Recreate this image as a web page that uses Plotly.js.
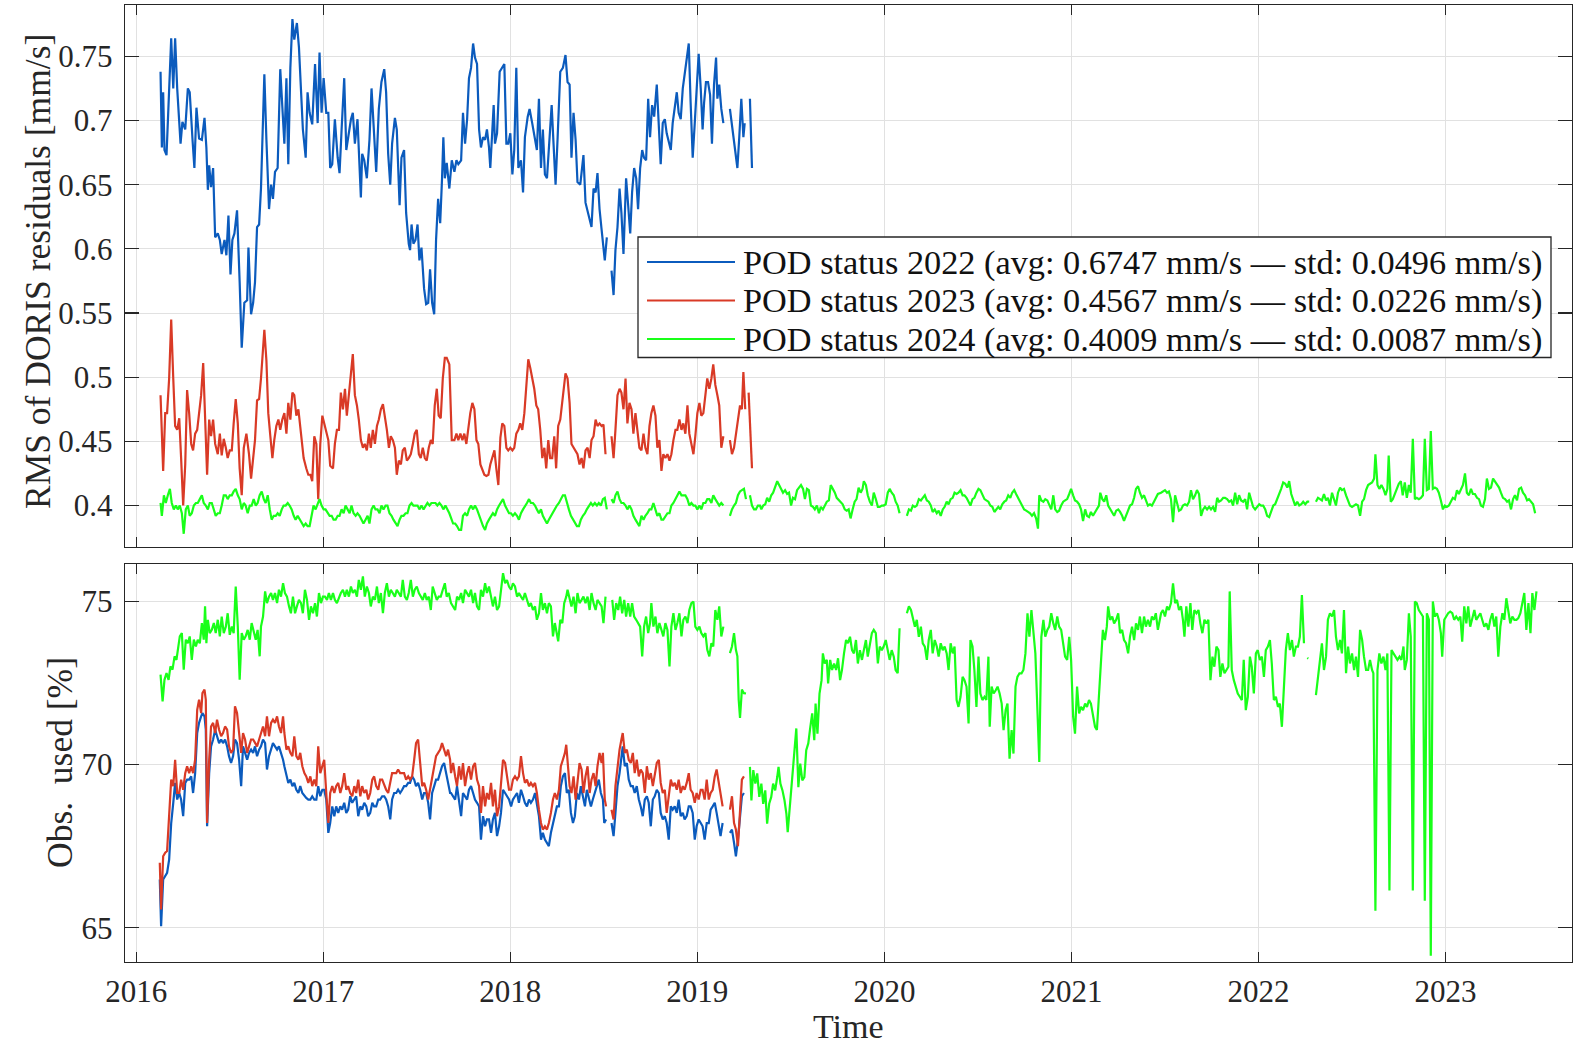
<!DOCTYPE html>
<html><head><meta charset="utf-8">
<script src="https://cdn.plot.ly/plotly-3.0.1.min.js"></script>
<style>html,body{margin:0;padding:0;background:#fff;}#chart{width:1578px;height:1046px;}</style>
</head><body><div id="chart"></div>
<script>
// ---------- axis ticks / labels ----------
const yearTicks = [2016, 2017, 2018, 2019, 2020, 2021, 2022, 2023];
const yearLabels = ['2016', '2017', '2018', '2019', '2020', '2021', '2022', '2023'];
const rmsTicks = [0.4, 0.45, 0.5, 0.55, 0.6, 0.65, 0.7, 0.75];
const rmsLabels = ['0.4', '0.45', '0.5', '0.55', '0.6', '0.65', '0.7', '0.75'];
const obsTicks = [65, 70, 75];
const obsLabels = ['65', '70', '75'];
const axisTitles = {rms: 'RMS of DORIS residuals [mm/s]', obs: 'Obs.  used [%]', time: 'Time'};

// ---------- series labels ----------
const seriesNames = ['POD status 2022', 'POD status 2023', 'POD status 2024'];
const seriesAvg = ['0.6747', '0.4567', '0.4009'];
const seriesStd = ['0.0496', '0.0226', '0.0087'];

// ---------- RMS of DORIS residuals [mm/s]  ([decimal year, value], null = data gap) ----------
const rms2022 = [[2016.130,.738],[2016.137,.679],[2016.144,.722],[2016.151,.677],[2016.162,.673],[2016.173,.720],[2016.187,.764],[2016.198,.725],[2016.208,.764],[2016.219,.725],[2016.226,.706],[2016.237,.682],[2016.247,.699],[2016.262,.693],[2016.276,.725],[2016.286,.722],[2016.301,.685],[2016.311,.663],[2016.322,.710],[2016.336,.686],[2016.351,.685],[2016.365,.702],[2016.375,.679],[2016.383,.646],[2016.390,.665],[2016.400,.648],[2016.411,.663],[2016.422,.609],[2016.436,.612],[2016.447,.607],[2016.457,.596],[2016.472,.607],[2016.482,.595],[2016.493,.626],[2016.504,.580],[2016.514,.607],[2016.525,.612],[2016.539,.630],[2016.553,.574],[2016.564,.523],[2016.578,.558],[2016.593,.560],[2016.600,.601],[2016.614,.549],[2016.625,.558],[2016.635,.574],[2016.646,.617],[2016.657,.619],[2016.667,.647],[2016.685,.736],[2016.696,.685],[2016.710,.631],[2016.721,.650],[2016.731,.639],[2016.742,.660],[2016.756,.663],[2016.770,.740],[2016.781,.706],[2016.792,.682],[2016.803,.733],[2016.813,.666],[2016.824,.741],[2016.835,.779],[2016.845,.763],[2016.859,.776],[2016.870,.757],[2016.881,.722],[2016.891,.693],[2016.906,.671],[2016.916,.722],[2016.927,.706],[2016.941,.697],[2016.956,.744],[2016.970,.698],[2016.980,.753],[2016.991,.706],[2017.002,.733],[2017.016,.706],[2017.027,.706],[2017.037,.663],[2017.048,.666],[2017.062,.701],[2017.077,.671],[2017.087,.659],[2017.098,.693],[2017.112,.733],[2017.123,.677],[2017.133,.687],[2017.148,.701],[2017.158,.706],[2017.169,.682],[2017.183,.701],[2017.194,.658],[2017.201,.640],[2017.208,.674],[2017.219,.669],[2017.233,.655],[2017.247,.685],[2017.258,.725],[2017.272,.685],[2017.283,.660],[2017.297,.709],[2017.311,.730],[2017.326,.740],[2017.336,.722],[2017.347,.674],[2017.358,.650],[2017.368,.682],[2017.383,.702],[2017.393,.693],[2017.408,.634],[2017.418,.671],[2017.432,.677],[2017.443,.628],[2017.457,.604],[2017.464,.599],[2017.472,.619],[2017.482,.604],[2017.493,.607],[2017.504,.619],[2017.514,.591],[2017.525,.601],[2017.539,.569],[2017.550,.557],[2017.561,.558],[2017.571,.584],[2017.582,.558],[2017.593,.549],[2017.603,.607],[2017.614,.639],[2017.625,.620],[2017.635,.655],[2017.642,.687],[2017.650,.655],[2017.660,.667],[2017.674,.647],[2017.687,.669],[2017.701,.660],[2017.712,.669],[2017.722,.666],[2017.737,.669],[2017.747,.706],[2017.758,.682],[2017.769,.701],[2017.779,.733],[2017.790,.741],[2017.801,.760],[2017.811,.749],[2017.822,.744],[2017.833,.693],[2017.843,.679],[2017.854,.687],[2017.865,.685],[2017.875,.693],[2017.886,.679],[2017.893,.663],[2017.900,.682],[2017.911,.712],[2017.918,.682],[2017.929,.690],[2017.943,.738],[2017.957,.741],[2017.968,.744],[2017.979,.682],[2017.989,.682],[2018.000,.690],[2018.011,.658],[2018.021,.677],[2018.032,.741],[2018.043,.663],[2018.057,.669],[2018.068,.644],[2018.078,.687],[2018.093,.703],[2018.103,.709],[2018.117,.698],[2018.132,.685],[2018.142,.677],[2018.153,.717],[2018.164,.663],[2018.174,.693],[2018.185,.658],[2018.196,.655],[2018.210,.685],[2018.221,.712],[2018.231,.682],[2018.242,.650],[2018.253,.687],[2018.267,.738],[2018.281,.741],[2018.295,.751],[2018.306,.730],[2018.317,.728],[2018.327,.671],[2018.338,.706],[2018.349,.685],[2018.359,.652],[2018.374,.650],[2018.391,.673],[2018.402,.636],[2018.413,.630],[2018.424,.623],[2018.434,.617],[2018.445,.647],[2018.456,.644],[2018.466,.659],[2018.477,.631],[2018.488,.615],[2018.498,.599],[2018.505,.591],[2018.516,.609],null,[2018.541,.583],[2018.552,.564],[2018.562,.599],[2018.573,.617],[2018.584,.647],[2018.594,.628],[2018.605,.596],[2018.619,.655],[2018.630,.634],[2018.641,.612],[2018.651,.644],[2018.662,.663],[2018.673,.655],[2018.683,.631],[2018.694,.663],[2018.705,.677],[2018.715,.671],[2018.726,.669],[2018.737,.717],[2018.747,.687],[2018.758,.712],[2018.769,.703],[2018.783,.728],[2018.794,.693],[2018.804,.666],[2018.815,.698],[2018.826,.701],[2018.836,.690],[2018.847,.682],[2018.858,.677],[2018.868,.698],[2018.879,.709],[2018.890,.722],[2018.900,.706],[2018.911,.701],[2018.922,.725],[2018.932,.736],[2018.943,.747],[2018.954,.760],[2018.964,.714],[2018.975,.671],[2018.986,.698],[2018.996,.720],[2019.007,.752],[2019.018,.725],[2019.028,.693],[2019.036,.714],[2019.046,.730],[2019.057,.730],[2019.068,.720],[2019.078,.682],[2019.089,.728],[2019.100,.749],[2019.107,.717],[2019.117,.728],[2019.128,.709],[2019.139,.698],null,[2019.174,.709],[2019.189,.693],[2019.203,.677],[2019.214,.663],[2019.224,.687],[2019.235,.717],[2019.246,.687],[2019.253,.698],null,[2019.281,.717],[2019.292,.663]];

const rms2023 = [[2016.130,.486],[2016.144,.427],[2016.155,.472],[2016.165,.472],[2016.176,.499],[2016.187,.545],[2016.198,.499],[2016.208,.462],[2016.219,.459],[2016.230,.468],[2016.240,.437],[2016.251,.400],[2016.262,.432],[2016.272,.490],[2016.283,.472],[2016.294,.448],[2016.304,.443],[2016.315,.456],[2016.326,.459],[2016.336,.472],[2016.347,.486],[2016.358,.511],[2016.368,.472],[2016.379,.424],[2016.390,.467],[2016.400,.454],[2016.411,.467],[2016.422,.448],[2016.436,.440],[2016.447,.456],[2016.457,.439],[2016.468,.452],[2016.479,.445],[2016.489,.437],[2016.500,.443],[2016.511,.443],[2016.521,.464],[2016.532,.483],[2016.543,.464],[2016.553,.429],[2016.564,.408],[2016.575,.445],[2016.589,.456],[2016.603,.440],[2016.614,.421],[2016.625,.437],[2016.635,.451],[2016.646,.482],[2016.657,.483],[2016.667,.499],[2016.678,.521],[2016.685,.537],[2016.696,.513],[2016.706,.472],[2016.717,.454],[2016.728,.437],[2016.738,.451],[2016.749,.462],[2016.760,.467],[2016.770,.459],[2016.781,.467],[2016.792,.472],[2016.803,.456],[2016.813,.480],[2016.824,.467],[2016.835,.488],[2016.845,.486],[2016.856,.470],[2016.867,.475],[2016.881,.454],[2016.895,.437],[2016.909,.429],[2016.920,.424],[2016.931,.424],[2016.941,.419],[2016.952,.454],[2016.963,.448],[2016.973,.405],[2016.984,.448],[2016.995,.470],[2017.005,.464],[2017.016,.459],[2017.027,.451],[2017.037,.431],[2017.052,.429],[2017.062,.448],[2017.073,.459],[2017.084,.459],[2017.094,.488],[2017.105,.475],[2017.116,.491],[2017.126,.470],[2017.137,.488],[2017.148,.507],[2017.158,.518],[2017.169,.486],[2017.180,.478],[2017.190,.467],[2017.201,.451],[2017.212,.445],[2017.222,.448],[2017.233,.443],[2017.244,.456],[2017.254,.445],[2017.265,.459],[2017.276,.448],[2017.287,.462],[2017.297,.467],[2017.308,.475],[2017.319,.479],[2017.329,.470],[2017.340,.459],[2017.351,.445],[2017.361,.454],[2017.372,.451],[2017.383,.445],[2017.393,.424],[2017.404,.435],[2017.415,.432],[2017.425,.443],[2017.436,.445],[2017.447,.435],[2017.457,.437],[2017.468,.440],[2017.479,.448],[2017.489,.456],[2017.500,.459],[2017.511,.440],[2017.521,.437],[2017.532,.445],[2017.543,.437],[2017.553,.435],[2017.564,.445],[2017.575,.451],[2017.585,.448],[2017.596,.478],[2017.607,.491],[2017.617,.470],[2017.628,.468],[2017.639,.499],[2017.650,.515],[2017.660,.515],[2017.674,.510],[2017.687,.451],[2017.701,.451],[2017.712,.456],[2017.722,.451],[2017.733,.456],[2017.744,.451],[2017.754,.456],[2017.765,.448],[2017.776,.462],[2017.786,.472],[2017.797,.480],[2017.808,.475],[2017.819,.451],[2017.829,.448],[2017.840,.432],[2017.851,.427],[2017.861,.424],[2017.872,.423],[2017.883,.424],[2017.893,.432],[2017.904,.437],[2017.915,.443],[2017.925,.429],[2017.936,.416],[2017.947,.453],[2017.957,.464],[2017.968,.462],[2017.979,.445],[2017.989,.443],[2018.000,.445],[2018.011,.443],[2018.021,.445],[2018.032,.456],[2018.043,.459],[2018.053,.464],[2018.064,.459],[2018.075,.472],[2018.085,.491],[2018.096,.514],[2018.107,.507],[2018.117,.499],[2018.128,.491],[2018.139,.478],[2018.149,.475],[2018.160,.459],[2018.171,.437],[2018.182,.445],[2018.192,.429],[2018.203,.451],[2018.213,.437],[2018.224,.437],[2018.235,.454],[2018.245,.429],[2018.256,.462],[2018.267,.467],[2018.278,.480],[2018.288,.491],[2018.295,.503],[2018.306,.499],[2018.317,.480],[2018.327,.448],[2018.338,.445],[2018.349,.443],[2018.359,.440],[2018.370,.432],[2018.381,.437],[2018.391,.429],[2018.402,.443],[2018.413,.445],[2018.424,.437],[2018.434,.451],[2018.445,.454],[2018.456,.467],[2018.466,.462],[2018.477,.464],[2018.488,.462],[2018.498,.463],[2018.509,.440],null,[2018.541,.454],[2018.552,.437],[2018.562,.459],[2018.573,.486],[2018.584,.491],[2018.594,.488],[2018.605,.475],[2018.616,.499],[2018.626,.464],[2018.637,.480],[2018.648,.475],[2018.658,.456],[2018.669,.472],[2018.680,.459],[2018.690,.445],[2018.701,.443],[2018.712,.456],[2018.722,.445],[2018.733,.440],[2018.744,.462],[2018.754,.472],[2018.765,.478],[2018.776,.470],[2018.786,.445],[2018.797,.451],[2018.808,.427],[2018.818,.440],[2018.829,.437],[2018.840,.440],[2018.851,.435],[2018.861,.440],[2018.872,.451],[2018.883,.459],[2018.893,.459],[2018.904,.467],[2018.915,.459],[2018.925,.464],[2018.936,.456],[2018.947,.478],[2018.957,.456],[2018.968,.448],[2018.979,.440],[2018.989,.454],[2019.000,.472],[2019.011,.480],[2019.021,.470],[2019.032,.472],[2019.043,.486],[2019.053,.499],[2019.064,.491],[2019.075,.499],[2019.085,.510],[2019.096,.494],[2019.107,.486],[2019.117,.478],[2019.128,.445],[2019.139,.454],null,[2019.174,.451],[2019.185,.440],[2019.196,.445],[2019.206,.456],[2019.217,.470],[2019.228,.478],[2019.238,.475],[2019.246,.504],[2019.256,.475],null,[2019.274,.488],[2019.285,.456],[2019.292,.429]];

const rms2024 = [[2016.130,.402],[2016.137,.392],[2016.148,.408],[2016.158,.402],[2016.169,.408],[2016.180,.413],[2016.190,.402],[2016.201,.397],[2016.212,.400],[2016.222,.397],[2016.233,.400],[2016.244,.394],[2016.254,.378],[2016.265,.397],[2016.276,.400],[2016.286,.392],[2016.297,.394],[2016.308,.400],[2016.319,.402],[2016.329,.402],[2016.340,.405],[2016.351,.408],[2016.361,.402],[2016.372,.400],[2016.383,.397],[2016.393,.402],[2016.404,.402],[2016.415,.397],[2016.425,.392],[2016.436,.394],[2016.447,.394],[2016.457,.400],[2016.468,.408],[2016.479,.408],[2016.489,.405],[2016.500,.408],[2016.511,.408],[2016.521,.411],[2016.532,.413],[2016.543,.408],[2016.553,.405],[2016.564,.397],[2016.575,.402],[2016.585,.400],[2016.596,.394],[2016.607,.400],[2016.617,.400],[2016.628,.405],[2016.639,.400],[2016.649,.402],[2016.660,.408],[2016.671,.411],[2016.682,.405],[2016.692,.402],[2016.703,.408],[2016.714,.397],[2016.724,.389],[2016.735,.392],[2016.746,.392],[2016.756,.394],[2016.767,.392],[2016.778,.397],[2016.788,.400],[2016.799,.400],[2016.810,.402],[2016.820,.400],[2016.831,.397],[2016.842,.392],[2016.852,.389],[2016.863,.392],[2016.874,.389],[2016.884,.386],[2016.895,.384],[2016.906,.386],[2016.916,.384],[2016.927,.384],[2016.938,.392],[2016.948,.400],[2016.959,.397],[2016.970,.402],[2016.980,.405],[2016.991,.400],[2017.002,.397],[2017.012,.397],[2017.023,.394],[2017.034,.392],[2017.045,.392],[2017.055,.389],[2017.066,.389],[2017.077,.392],[2017.087,.392],[2017.098,.397],[2017.109,.394],[2017.119,.400],[2017.130,.397],[2017.141,.394],[2017.151,.400],[2017.162,.394],[2017.173,.392],[2017.183,.394],[2017.194,.392],[2017.205,.389],[2017.215,.386],[2017.226,.389],[2017.237,.392],[2017.247,.386],[2017.258,.397],[2017.269,.400],[2017.279,.397],[2017.290,.397],[2017.301,.394],[2017.311,.400],[2017.322,.397],[2017.333,.400],[2017.343,.400],[2017.354,.394],[2017.365,.392],[2017.375,.389],[2017.386,.386],[2017.397,.384],[2017.408,.389],[2017.418,.392],[2017.429,.392],[2017.440,.394],[2017.450,.394],[2017.461,.400],[2017.472,.402],[2017.482,.400],[2017.493,.400],[2017.504,.400],[2017.514,.397],[2017.525,.400],[2017.536,.397],[2017.546,.400],[2017.557,.402],[2017.568,.400],[2017.578,.402],[2017.589,.402],[2017.600,.402],[2017.610,.400],[2017.621,.402],[2017.632,.400],[2017.642,.397],[2017.653,.400],[2017.664,.397],[2017.674,.394],[2017.694,.386],[2017.705,.386],[2017.715,.384],[2017.726,.381],[2017.737,.381],[2017.747,.392],[2017.758,.394],[2017.769,.392],[2017.779,.397],[2017.790,.400],[2017.801,.397],[2017.811,.400],[2017.822,.397],[2017.833,.392],[2017.843,.389],[2017.854,.384],[2017.865,.381],[2017.875,.386],[2017.886,.389],[2017.897,.392],[2017.907,.394],[2017.918,.392],[2017.929,.397],[2017.940,.400],[2017.950,.402],[2017.961,.405],[2017.972,.400],[2017.982,.397],[2017.993,.394],[2018.004,.394],[2018.014,.392],[2018.025,.394],[2018.036,.392],[2018.046,.389],[2018.057,.394],[2018.068,.397],[2018.078,.400],[2018.089,.402],[2018.100,.405],[2018.110,.402],[2018.121,.402],[2018.132,.400],[2018.142,.397],[2018.153,.394],[2018.164,.397],[2018.174,.392],[2018.185,.389],[2018.196,.386],[2018.206,.389],[2018.217,.392],[2018.228,.394],[2018.238,.397],[2018.249,.400],[2018.260,.402],[2018.270,.405],[2018.281,.408],[2018.292,.408],[2018.302,.402],[2018.313,.397],[2018.324,.392],[2018.335,.389],[2018.345,.386],[2018.356,.384],[2018.367,.384],[2018.377,.389],[2018.388,.392],[2018.399,.394],[2018.409,.397],[2018.420,.400],[2018.431,.402],[2018.441,.400],[2018.452,.402],[2018.463,.400],[2018.473,.402],[2018.484,.400],[2018.495,.405],[2018.505,.406],[2018.516,.397],null,[2018.541,.405],[2018.552,.402],[2018.562,.408],[2018.573,.411],[2018.584,.405],[2018.594,.402],[2018.605,.402],[2018.616,.400],[2018.626,.397],[2018.637,.400],[2018.648,.397],[2018.658,.392],[2018.669,.389],[2018.680,.386],[2018.690,.384],[2018.701,.392],[2018.712,.389],[2018.722,.392],[2018.733,.394],[2018.744,.397],[2018.754,.397],[2018.765,.402],[2018.776,.397],[2018.786,.392],[2018.797,.394],[2018.808,.389],[2018.818,.389],[2018.829,.392],[2018.840,.394],[2018.851,.394],[2018.861,.400],[2018.872,.402],[2018.883,.405],[2018.893,.408],[2018.904,.411],[2018.915,.408],[2018.925,.408],[2018.936,.408],[2018.947,.405],[2018.957,.400],[2018.968,.402],[2018.979,.400],[2018.989,.400],[2019.000,.397],[2019.011,.400],[2019.021,.397],[2019.032,.402],[2019.043,.402],[2019.053,.405],[2019.064,.405],[2019.075,.402],[2019.085,.408],[2019.096,.405],[2019.107,.402],[2019.117,.400],[2019.128,.402],[2019.139,.400],null,[2019.174,.392],[2019.185,.397],[2019.196,.400],[2019.206,.402],[2019.217,.408],[2019.228,.411],[2019.238,.412],[2019.249,.413],[2019.260,.405],null,[2019.281,.408],[2019.292,.400],[2019.303,.397],[2019.313,.397],[2019.324,.400],[2019.335,.400],[2019.342,.397],[2019.352,.400],[2019.363,.401],[2019.373,.406],[2019.384,.403],[2019.395,.408],[2019.405,.410],[2019.416,.414],[2019.427,.419],[2019.437,.416],[2019.448,.413],[2019.458,.410],[2019.469,.412],[2019.480,.409],[2019.490,.410],[2019.501,.400],[2019.511,.406],[2019.522,.405],[2019.533,.412],[2019.543,.414],[2019.554,.416],[2019.565,.413],[2019.575,.405],[2019.586,.413],[2019.596,.412],[2019.607,.400],[2019.618,.399],[2019.628,.397],[2019.639,.400],[2019.650,.394],[2019.660,.399],[2019.671,.397],[2019.681,.400],[2019.692,.403],[2019.703,.404],[2019.713,.416],[2019.724,.413],[2019.735,.410],[2019.745,.406],[2019.756,.404],[2019.766,.403],[2019.777,.401],[2019.788,.397],[2019.798,.396],[2019.809,.397],[2019.819,.390],[2019.830,.397],[2019.841,.403],[2019.851,.405],[2019.862,.414],[2019.873,.410],[2019.883,.413],[2019.890,.419],[2019.901,.416],[2019.911,.408],[2019.922,.403],[2019.933,.400],[2019.943,.410],[2019.954,.405],[2019.965,.399],[2019.975,.399],[2019.986,.400],[2019.996,.400],[2020.007,.401],[2020.018,.410],[2020.028,.413],[2020.039,.410],[2020.050,.408],[2020.060,.403],[2020.071,.400],[2020.081,.394],null,[2020.120,.392],[2020.131,.397],[2020.142,.396],[2020.152,.400],[2020.163,.399],[2020.173,.400],[2020.184,.405],[2020.195,.404],[2020.205,.406],[2020.216,.408],[2020.227,.404],[2020.237,.403],[2020.248,.400],[2020.258,.395],[2020.269,.397],[2020.280,.394],[2020.290,.396],[2020.301,.392],[2020.312,.397],[2020.322,.399],[2020.333,.403],[2020.343,.401],[2020.354,.405],[2020.365,.406],[2020.375,.410],[2020.386,.409],[2020.396,.410],[2020.407,.412],[2020.418,.408],[2020.428,.408],[2020.439,.406],[2020.450,.403],[2020.460,.400],[2020.471,.405],[2020.481,.406],[2020.492,.410],[2020.503,.413],[2020.513,.412],[2020.524,.408],[2020.535,.405],[2020.545,.404],[2020.556,.403],[2020.566,.400],[2020.577,.399],[2020.588,.395],[2020.598,.397],[2020.609,.399],[2020.619,.397],[2020.630,.401],[2020.641,.403],[2020.651,.404],[2020.662,.408],[2020.673,.406],[2020.683,.410],[2020.694,.412],[2020.704,.409],[2020.715,.406],[2020.726,.403],[2020.736,.400],[2020.747,.397],[2020.758,.396],[2020.768,.395],[2020.779,.394],[2020.789,.392],[2020.800,.394],[2020.811,.390],[2020.821,.382],[2020.828,.408],[2020.839,.404],[2020.850,.403],[2020.860,.405],[2020.871,.404],[2020.881,.400],[2020.892,.397],[2020.903,.408],[2020.913,.397],[2020.924,.395],[2020.934,.396],[2020.945,.400],[2020.956,.403],[2020.966,.404],[2020.977,.405],[2020.988,.409],[2020.998,.413],[2021.009,.408],[2021.019,.404],[2021.030,.403],[2021.041,.401],[2021.051,.397],[2021.062,.388],[2021.073,.397],[2021.083,.392],[2021.094,.391],[2021.104,.395],[2021.115,.392],[2021.126,.395],[2021.136,.397],[2021.147,.400],[2021.154,.410],[2021.165,.405],[2021.175,.403],[2021.186,.408],[2021.196,.400],[2021.207,.397],[2021.218,.395],[2021.228,.392],[2021.239,.396],[2021.250,.397],[2021.260,.395],[2021.271,.392],[2021.281,.388],[2021.292,.392],[2021.303,.397],[2021.313,.400],[2021.324,.401],[2021.335,.406],[2021.345,.413],[2021.356,.415],[2021.366,.410],[2021.377,.406],[2021.388,.408],[2021.398,.404],[2021.409,.400],[2021.420,.401],[2021.430,.400],[2021.441,.403],[2021.451,.406],[2021.462,.409],[2021.479,.410],[2021.489,.411],[2021.500,.412],[2021.511,.410],[2021.521,.411],[2021.532,.405],[2021.543,.387],[2021.554,.408],[2021.564,.403],[2021.575,.396],[2021.586,.397],[2021.596,.400],[2021.607,.401],[2021.618,.400],[2021.629,.403],[2021.639,.412],[2021.650,.405],[2021.661,.408],[2021.671,.412],[2021.682,.409],[2021.693,.392],[2021.704,.397],[2021.714,.399],[2021.725,.397],[2021.736,.399],[2021.746,.397],[2021.757,.399],[2021.768,.395],[2021.779,.406],[2021.789,.403],[2021.800,.404],[2021.811,.406],[2021.821,.406],[2021.832,.405],[2021.843,.403],[2021.854,.404],[2021.864,.400],[2021.875,.410],[2021.886,.401],[2021.896,.408],[2021.907,.404],[2021.918,.403],[2021.929,.405],[2021.939,.397],[2021.950,.410],[2021.961,.405],[2021.971,.399],[2021.982,.397],[2021.993,.399],[2022.004,.401],[2022.014,.400],[2022.025,.400],[2022.036,.397],[2022.046,.392],[2022.057,.391],[2022.068,.395],[2022.079,.400],[2022.089,.401],[2022.100,.405],[2022.111,.408],[2022.121,.413],[2022.132,.418],[2022.143,.417],[2022.154,.414],[2022.164,.419],[2022.175,.409],[2022.186,.405],[2022.196,.400],[2022.207,.403],[2022.218,.400],[2022.229,.401],[2022.239,.403],[2022.250,.401],[2022.261,.403],[2022.271,.403],null,[2022.307,.403],[2022.318,.406],[2022.329,.405],[2022.339,.404],[2022.350,.409],[2022.361,.404],[2022.371,.406],[2022.382,.400],[2022.393,.410],[2022.404,.405],[2022.414,.400],[2022.425,.410],[2022.436,.414],[2022.446,.412],[2022.457,.413],[2022.468,.408],[2022.479,.403],[2022.489,.400],[2022.500,.399],[2022.511,.400],[2022.521,.401],[2022.532,.400],[2022.543,.392],[2022.554,.403],[2022.564,.405],[2022.575,.412],[2022.586,.416],[2022.596,.417],[2022.607,.418],[2022.618,.421],[2022.625,.440],[2022.636,.416],[2022.646,.413],[2022.657,.416],[2022.668,.413],[2022.679,.408],[2022.689,.413],[2022.696,.439],[2022.707,.403],[2022.718,.405],[2022.729,.409],[2022.739,.413],[2022.750,.417],[2022.761,.419],[2022.771,.408],[2022.782,.418],[2022.793,.406],[2022.804,.416],[2022.814,.410],[2022.825,.452],[2022.836,.405],[2022.846,.406],[2022.857,.405],[2022.868,.406],[2022.879,.408],[2022.889,.452],[2022.900,.412],[2022.911,.413],[2022.921,.458],[2022.932,.413],[2022.943,.414],[2022.954,.413],[2022.964,.410],[2022.975,.404],[2022.986,.397],[2022.996,.400],[2023.007,.399],[2023.018,.400],[2023.029,.403],[2023.039,.406],[2023.050,.405],[2023.061,.412],[2023.071,.409],[2023.082,.412],[2023.093,.416],[2023.104,.425],[2023.114,.410],[2023.125,.408],[2023.136,.413],[2023.146,.409],[2023.157,.409],[2023.168,.406],[2023.179,.405],[2023.189,.400],[2023.200,.399],[2023.211,.405],[2023.221,.421],[2023.232,.413],[2023.243,.414],[2023.254,.421],[2023.264,.419],[2023.275,.417],[2023.286,.414],[2023.296,.410],[2023.307,.406],[2023.318,.405],[2023.329,.403],[2023.339,.404],[2023.350,.397],[2023.361,.405],[2023.371,.408],[2023.382,.404],[2023.393,.413],[2023.404,.414],[2023.414,.410],[2023.425,.408],[2023.436,.404],[2023.446,.405],[2023.457,.403],[2023.468,.401],[2023.479,.394]];

// ---------- Obs. used [%] ----------
const obs2022 = [[2016.126,66.48],[2016.133,65.05],[2016.144,66.48],[2016.155,66.58],[2016.165,66.68],[2016.176,67.09],[2016.187,68.21],[2016.198,68.83],[2016.208,69.44],[2016.219,68.93],[2016.230,69.13],[2016.240,68.93],[2016.251,68.42],[2016.262,69.44],[2016.272,69.54],[2016.283,69.54],[2016.294,69.64],[2016.304,69.13],[2016.315,69.74],[2016.326,70.97],[2016.336,71.28],[2016.347,71.48],[2016.354,71.58],[2016.365,71.48],[2016.372,71.07],[2016.379,68.11],[2016.390,69.74],[2016.400,70.56],[2016.411,70.77],[2016.422,71.07],[2016.432,70.87],[2016.443,70.66],[2016.454,70.77],[2016.464,70.66],[2016.475,70.77],[2016.486,70.56],[2016.496,70.26],[2016.507,70.05],[2016.518,70.26],[2016.528,70.77],[2016.539,70.66],[2016.550,70.15],[2016.561,69.34],[2016.571,70.56],[2016.582,70.36],[2016.593,70.15],[2016.603,70.36],[2016.614,70.46],[2016.625,70.36],[2016.635,70.56],[2016.646,70.26],[2016.657,70.46],[2016.667,70.56],[2016.678,70.77],[2016.689,70.66],[2016.699,69.85],[2016.710,70.26],[2016.721,70.46],[2016.731,70.66],[2016.742,70.56],[2016.753,70.46],[2016.763,70.56],[2016.774,70.36],[2016.785,70.15],[2016.792,69.95],[2016.803,69.64],[2016.813,69.44],[2016.824,69.54],[2016.835,69.34],[2016.845,69.44],[2016.856,69.23],[2016.867,69.13],[2016.877,69.34],[2016.888,69.13],[2016.899,69.03],[2016.909,68.98],[2016.920,68.93],[2016.931,68.93],[2016.941,69.03],[2016.952,68.93],[2016.963,68.93],[2016.973,69.34],[2016.984,69.03],[2016.995,69.23],[2017.005,69.23],[2017.016,68.93],[2017.027,67.91],[2017.037,68.21],[2017.048,68.72],[2017.059,68.42],[2017.069,68.72],[2017.080,68.52],[2017.091,68.72],[2017.101,68.62],[2017.112,68.83],[2017.123,68.52],[2017.133,68.62],[2017.144,69.03],[2017.155,68.83],[2017.166,68.93],[2017.176,69.03],[2017.187,68.42],[2017.198,68.72],[2017.208,68.62],[2017.219,68.83],[2017.230,68.72],[2017.240,68.42],[2017.251,68.52],[2017.262,68.83],[2017.272,68.72],[2017.283,68.72],[2017.294,68.93],[2017.304,68.93],[2017.315,69.03],[2017.326,69.03],[2017.336,68.93],[2017.347,68.72],[2017.358,68.32],[2017.368,68.93],[2017.379,69.13],[2017.390,69.13],[2017.400,69.23],[2017.411,69.13],[2017.422,69.23],[2017.432,69.34],[2017.443,69.34],[2017.454,69.44],[2017.464,69.44],[2017.475,69.64],[2017.486,69.54],[2017.496,69.34],[2017.507,69.44],[2017.518,69.23],[2017.529,68.93],[2017.539,69.13],[2017.550,69.13],[2017.561,68.83],[2017.571,68.32],[2017.582,69.13],[2017.593,69.34],[2017.603,69.54],[2017.614,69.54],[2017.625,69.74],[2017.635,69.95],[2017.646,70.05],[2017.657,69.74],[2017.667,69.54],[2017.678,69.13],[2017.683,69.13],[2017.694,69.03],[2017.705,68.93],[2017.715,69.34],[2017.726,68.93],[2017.737,68.42],[2017.747,69.13],[2017.758,69.03],[2017.769,68.93],[2017.779,69.23],[2017.790,69.34],[2017.801,69.13],[2017.811,68.93],[2017.822,68.83],[2017.833,68.72],[2017.843,67.70],[2017.854,68.42],[2017.865,68.11],[2017.875,68.32],[2017.886,68.32],[2017.897,67.91],[2017.907,68.32],[2017.918,68.52],[2017.929,67.81],[2017.940,68.11],[2017.950,68.52],[2017.961,69.23],[2017.972,69.13],[2017.982,69.03],[2017.993,68.93],[2018.004,68.72],[2018.014,68.93],[2018.025,69.03],[2018.036,69.13],[2018.046,68.83],[2018.057,69.23],[2018.068,69.03],[2018.078,68.83],[2018.089,68.72],[2018.100,68.93],[2018.110,68.83],[2018.121,68.93],[2018.132,69.13],[2018.142,68.72],[2018.153,68.42],[2018.164,67.70],[2018.174,67.91],[2018.185,67.70],[2018.196,67.60],[2018.206,67.50],[2018.217,67.91],[2018.228,68.21],[2018.238,68.52],[2018.249,68.72],[2018.260,68.72],[2018.270,69.34],[2018.281,69.64],[2018.292,69.74],[2018.302,69.13],[2018.313,69.23],[2018.324,68.52],[2018.335,68.21],[2018.345,68.42],[2018.356,69.13],[2018.367,68.93],[2018.377,69.34],[2018.388,69.03],[2018.399,68.72],[2018.409,69.23],[2018.420,68.93],[2018.431,68.72],[2018.441,68.93],[2018.452,69.13],[2018.463,69.34],[2018.473,69.54],[2018.484,69.13],[2018.495,68.93],[2018.502,68.21],[2018.512,68.32],null,[2018.541,68.21],[2018.552,67.81],[2018.562,68.52],[2018.573,69.34],[2018.584,69.74],[2018.594,70.26],[2018.601,70.56],[2018.612,69.95],[2018.623,70.05],[2018.633,69.54],[2018.644,69.34],[2018.655,69.34],[2018.665,69.13],[2018.676,69.34],[2018.687,68.93],[2018.697,68.72],[2018.708,68.42],[2018.719,68.93],[2018.730,69.03],[2018.740,68.83],[2018.751,68.11],[2018.762,68.93],[2018.772,69.03],[2018.783,69.23],[2018.794,69.13],[2018.804,68.52],[2018.815,68.32],[2018.826,68.42],[2018.836,68.21],[2018.847,67.70],[2018.858,68.72],[2018.868,68.62],[2018.879,68.72],[2018.890,68.52],[2018.900,68.93],[2018.911,68.42],[2018.922,68.52],[2018.932,68.32],[2018.943,68.42],[2018.954,68.72],[2018.964,68.72],[2018.975,68.52],[2018.986,67.70],[2018.996,68.11],[2019.007,68.32],[2019.018,68.21],[2019.028,68.11],[2019.039,67.70],[2019.050,68.21],[2019.061,68.21],[2019.071,68.62],[2019.082,68.72],[2019.093,68.83],[2019.103,68.52],[2019.114,68.11],[2019.124,67.81],[2019.135,68.21],null,[2019.174,67.91],[2019.185,68.01],[2019.196,67.60],[2019.206,67.19],[2019.217,67.70],[2019.228,68.42],[2019.238,69.03],[2019.249,69.13]];

const obs2023 = [[2016.126,66.99],[2016.133,65.56],[2016.144,67.19],[2016.155,67.30],[2016.165,67.35],[2016.176,68.32],[2016.187,69.54],[2016.198,69.34],[2016.208,70.15],[2016.219,69.13],[2016.230,69.13],[2016.240,69.54],[2016.251,69.23],[2016.262,69.74],[2016.272,69.95],[2016.283,69.74],[2016.294,69.95],[2016.304,69.74],[2016.315,70.15],[2016.326,71.68],[2016.336,71.99],[2016.347,71.58],[2016.354,72.19],[2016.365,72.30],[2016.372,71.99],[2016.379,68.21],[2016.390,70.15],[2016.400,71.17],[2016.411,71.28],[2016.422,70.97],[2016.432,71.38],[2016.443,71.07],[2016.454,70.87],[2016.464,70.97],[2016.475,71.17],[2016.486,71.07],[2016.496,70.56],[2016.507,70.36],[2016.518,70.46],[2016.528,71.79],[2016.539,71.58],[2016.550,70.97],[2016.561,70.36],[2016.571,70.97],[2016.582,70.77],[2016.593,70.36],[2016.603,70.56],[2016.614,70.77],[2016.625,70.77],[2016.635,70.66],[2016.646,70.56],[2016.657,70.77],[2016.667,70.97],[2016.678,71.17],[2016.689,70.87],[2016.699,71.48],[2016.710,70.87],[2016.721,71.28],[2016.731,71.38],[2016.742,71.28],[2016.753,71.48],[2016.763,71.17],[2016.774,70.97],[2016.785,71.48],[2016.792,70.97],[2016.803,70.46],[2016.813,70.56],[2016.824,70.36],[2016.835,70.26],[2016.845,70.87],[2016.856,70.26],[2016.867,70.15],[2016.877,70.36],[2016.888,69.95],[2016.899,69.74],[2016.909,69.64],[2016.920,69.44],[2016.931,69.64],[2016.941,69.34],[2016.952,69.54],[2016.963,69.34],[2016.973,70.56],[2016.984,69.74],[2016.995,69.95],[2017.005,70.15],[2017.016,69.13],[2017.027,68.21],[2017.037,69.13],[2017.048,69.34],[2017.059,69.13],[2017.069,69.34],[2017.080,69.44],[2017.091,69.13],[2017.101,69.34],[2017.112,69.74],[2017.123,69.23],[2017.133,69.34],[2017.144,69.13],[2017.155,69.03],[2017.166,69.34],[2017.176,69.13],[2017.187,69.54],[2017.198,69.03],[2017.208,69.34],[2017.219,69.13],[2017.230,69.23],[2017.240,68.93],[2017.251,69.13],[2017.262,69.54],[2017.272,69.64],[2017.283,69.34],[2017.294,69.23],[2017.304,69.54],[2017.315,69.54],[2017.326,69.34],[2017.336,69.23],[2017.347,69.13],[2017.358,69.44],[2017.368,69.74],[2017.379,69.74],[2017.390,69.74],[2017.400,69.85],[2017.411,69.74],[2017.422,69.74],[2017.432,69.74],[2017.443,69.54],[2017.454,69.64],[2017.464,69.54],[2017.475,69.64],[2017.486,70.15],[2017.496,70.66],[2017.507,70.77],[2017.518,69.95],[2017.529,69.34],[2017.539,69.44],[2017.550,69.23],[2017.561,68.93],[2017.571,69.23],[2017.582,69.54],[2017.593,69.95],[2017.603,70.26],[2017.614,70.36],[2017.625,70.46],[2017.635,70.66],[2017.646,70.46],[2017.657,70.26],[2017.667,70.46],[2017.678,70.15],[2017.683,69.74],[2017.694,70.05],[2017.705,69.64],[2017.715,69.34],[2017.726,69.95],[2017.737,69.54],[2017.747,70.05],[2017.758,69.34],[2017.769,69.74],[2017.779,69.95],[2017.790,69.54],[2017.801,69.95],[2017.811,70.05],[2017.822,69.54],[2017.833,69.34],[2017.843,68.52],[2017.854,69.34],[2017.865,68.72],[2017.875,69.13],[2017.886,68.93],[2017.897,69.44],[2017.907,68.72],[2017.918,69.23],[2017.929,68.42],[2017.940,68.72],[2017.950,69.34],[2017.961,70.15],[2017.972,70.05],[2017.982,69.64],[2017.993,69.23],[2018.004,69.23],[2018.014,69.54],[2018.025,69.64],[2018.036,69.54],[2018.046,69.64],[2018.057,70.26],[2018.068,69.74],[2018.078,69.44],[2018.089,69.54],[2018.100,69.34],[2018.110,69.44],[2018.121,69.34],[2018.132,69.44],[2018.142,69.13],[2018.153,68.62],[2018.164,68.21],[2018.174,68.01],[2018.185,68.11],[2018.196,68.01],[2018.206,68.21],[2018.217,68.52],[2018.228,68.93],[2018.238,69.13],[2018.249,68.93],[2018.260,69.23],[2018.270,69.95],[2018.281,70.15],[2018.292,70.36],[2018.299,70.61],[2018.306,70.15],[2018.317,69.34],[2018.327,69.13],[2018.338,69.64],[2018.349,68.93],[2018.359,69.54],[2018.370,70.05],[2018.381,69.85],[2018.391,69.13],[2018.402,69.64],[2018.413,69.95],[2018.424,69.13],[2018.434,69.54],[2018.445,69.74],[2018.456,69.34],[2018.466,69.95],[2018.477,70.36],[2018.488,70.05],[2018.495,70.36],[2018.505,68.93],[2018.512,68.72],null,[2018.541,68.62],[2018.552,68.32],[2018.562,69.34],[2018.573,69.95],[2018.584,70.46],[2018.594,70.77],[2018.601,70.97],[2018.612,70.36],[2018.623,70.46],[2018.633,70.15],[2018.644,70.05],[2018.655,70.36],[2018.665,69.74],[2018.676,70.15],[2018.687,69.64],[2018.697,69.85],[2018.708,69.74],[2018.719,69.13],[2018.730,69.95],[2018.740,69.54],[2018.751,69.74],[2018.762,69.34],[2018.772,69.74],[2018.783,70.05],[2018.794,70.15],[2018.804,69.44],[2018.815,69.13],[2018.826,69.23],[2018.836,68.52],[2018.847,69.13],[2018.858,69.54],[2018.868,69.34],[2018.879,69.44],[2018.890,69.23],[2018.900,69.54],[2018.911,69.13],[2018.922,69.34],[2018.932,69.23],[2018.943,69.44],[2018.954,69.74],[2018.964,69.23],[2018.975,69.13],[2018.986,68.83],[2018.996,69.13],[2019.007,68.93],[2019.018,69.23],[2019.028,69.23],[2019.039,68.93],[2019.050,69.54],[2019.061,68.93],[2019.071,69.13],[2019.082,69.23],[2019.093,69.64],[2019.103,69.85],[2019.114,69.44],[2019.124,69.13],[2019.135,68.72],null,[2019.174,68.62],[2019.185,69.03],[2019.196,68.21],[2019.206,68.01],[2019.217,67.50],[2019.228,68.52],[2019.238,69.54],[2019.249,69.64]];

const obs2024 = [[2016.130,72.76],[2016.141,71.94],[2016.151,72.60],[2016.162,72.81],[2016.173,72.60],[2016.183,73.01],[2016.194,72.91],[2016.205,73.32],[2016.215,73.21],[2016.226,73.62],[2016.233,73.93],[2016.244,74.03],[2016.254,72.91],[2016.265,73.83],[2016.276,73.72],[2016.286,73.93],[2016.297,73.21],[2016.308,73.83],[2016.319,73.62],[2016.329,73.83],[2016.340,73.72],[2016.351,74.34],[2016.361,73.83],[2016.368,74.85],[2016.375,73.72],[2016.383,74.44],[2016.393,74.03],[2016.404,74.13],[2016.415,74.34],[2016.425,74.03],[2016.436,74.44],[2016.447,73.93],[2016.457,74.54],[2016.468,74.03],[2016.479,74.23],[2016.489,74.64],[2016.500,73.98],[2016.511,74.23],[2016.521,74.03],[2016.532,75.46],[2016.543,74.23],[2016.553,72.60],[2016.564,74.03],[2016.575,73.83],[2016.585,73.93],[2016.596,74.13],[2016.607,73.83],[2016.617,74.34],[2016.628,74.03],[2016.639,73.83],[2016.649,74.13],[2016.660,73.32],[2016.667,74.23],[2016.678,74.54],[2016.689,75.31],[2016.699,74.95],[2016.710,75.15],[2016.721,75.26],[2016.731,75.05],[2016.742,75.26],[2016.753,74.95],[2016.763,75.36],[2016.774,75.15],[2016.785,75.56],[2016.795,75.26],[2016.806,75.15],[2016.817,74.85],[2016.827,74.64],[2016.838,75.15],[2016.849,74.64],[2016.859,74.85],[2016.870,75.05],[2016.881,74.95],[2016.891,74.64],[2016.902,75.36],[2016.913,75.05],[2016.924,74.44],[2016.934,74.85],[2016.945,74.64],[2016.956,74.95],[2016.966,74.54],[2016.977,75.26],[2016.988,74.95],[2016.998,75.15],[2017.009,75.15],[2017.020,75.05],[2017.030,75.26],[2017.041,75.05],[2017.052,75.26],[2017.062,75.05],[2017.073,74.95],[2017.084,75.15],[2017.094,75.26],[2017.105,75.36],[2017.116,75.15],[2017.126,75.36],[2017.137,75.15],[2017.148,75.46],[2017.158,75.26],[2017.169,75.36],[2017.180,75.15],[2017.190,75.66],[2017.201,75.36],[2017.212,75.77],[2017.222,75.15],[2017.233,75.46],[2017.244,75.26],[2017.254,74.85],[2017.265,75.15],[2017.276,75.05],[2017.287,75.46],[2017.297,74.95],[2017.308,75.26],[2017.319,74.64],[2017.329,75.26],[2017.340,75.56],[2017.351,75.15],[2017.361,75.36],[2017.372,75.26],[2017.383,75.15],[2017.393,75.36],[2017.404,75.26],[2017.415,75.15],[2017.425,75.66],[2017.436,75.15],[2017.447,75.05],[2017.457,75.26],[2017.468,75.66],[2017.479,75.15],[2017.489,75.36],[2017.500,75.46],[2017.511,75.26],[2017.521,75.15],[2017.532,75.05],[2017.543,75.26],[2017.553,75.05],[2017.564,75.15],[2017.575,74.74],[2017.585,75.46],[2017.596,75.26],[2017.607,75.05],[2017.617,75.15],[2017.628,75.15],[2017.639,75.36],[2017.650,75.56],[2017.660,75.15],[2017.671,75.26],[2017.683,74.95],[2017.694,74.85],[2017.705,74.74],[2017.715,75.15],[2017.726,75.05],[2017.737,75.26],[2017.747,74.95],[2017.758,75.36],[2017.769,75.26],[2017.779,75.15],[2017.790,75.36],[2017.801,74.95],[2017.811,75.26],[2017.822,74.85],[2017.833,74.74],[2017.843,75.36],[2017.854,75.15],[2017.865,75.56],[2017.875,75.26],[2017.886,75.46],[2017.897,75.15],[2017.907,74.85],[2017.918,75.15],[2017.929,74.74],[2017.940,74.85],[2017.950,75.36],[2017.961,75.87],[2017.972,75.56],[2017.982,75.66],[2017.993,75.46],[2018.004,75.36],[2018.014,75.56],[2018.025,75.46],[2018.036,75.15],[2018.046,75.26],[2018.057,75.15],[2018.068,75.05],[2018.078,75.26],[2018.089,75.05],[2018.100,74.85],[2018.110,74.95],[2018.121,74.74],[2018.132,74.85],[2018.142,74.44],[2018.153,74.64],[2018.164,75.26],[2018.174,74.74],[2018.185,74.95],[2018.196,74.64],[2018.206,74.95],[2018.217,74.85],[2018.228,73.93],[2018.238,74.34],[2018.249,74.03],[2018.256,73.78],[2018.267,74.44],[2018.278,74.34],[2018.288,74.95],[2018.299,75.15],[2018.306,75.36],[2018.317,75.05],[2018.327,74.85],[2018.338,75.15],[2018.349,74.64],[2018.359,75.26],[2018.370,74.95],[2018.381,75.05],[2018.391,75.15],[2018.402,74.95],[2018.413,75.15],[2018.424,74.74],[2018.434,75.26],[2018.445,74.95],[2018.456,74.74],[2018.466,75.05],[2018.477,74.95],[2018.488,74.85],[2018.498,74.34],[2018.509,75.15],null,[2018.545,75.05],[2018.555,74.44],[2018.566,74.95],[2018.577,74.74],[2018.587,75.15],[2018.598,74.64],[2018.609,75.05],[2018.619,74.54],[2018.630,74.95],[2018.641,74.54],[2018.651,74.95],[2018.662,74.54],[2018.673,74.44],[2018.683,74.34],[2018.694,74.23],[2018.705,73.32],[2018.715,74.23],[2018.726,74.54],[2018.737,74.03],[2018.747,74.34],[2018.754,74.95],[2018.765,74.23],[2018.776,74.54],[2018.786,74.03],[2018.797,74.34],[2018.808,74.13],[2018.818,73.93],[2018.829,74.34],[2018.840,74.13],[2018.851,73.01],[2018.861,74.23],[2018.872,74.64],[2018.883,74.13],[2018.893,74.34],[2018.904,74.64],[2018.915,73.93],[2018.925,74.44],[2018.936,74.54],[2018.947,74.34],[2018.957,74.74],[2018.968,74.95],[2018.979,75.00],[2018.989,74.23],[2019.000,74.13],[2019.011,74.23],[2019.021,74.03],[2019.032,73.93],[2019.043,74.03],[2019.053,73.52],[2019.064,73.32],[2019.075,73.72],[2019.085,73.62],[2019.096,74.74],[2019.107,74.44],[2019.117,74.85],[2019.128,73.93],[2019.139,74.23],null,[2019.174,73.42],[2019.185,73.62],[2019.196,74.03],[2019.206,73.52],[2019.214,73.32],[2019.221,71.99],[2019.228,71.43],[2019.238,72.30],[2019.249,72.19],[2019.260,72.18],null,[2019.281,69.93],[2019.289,68.90],[2019.299,69.83],[2019.310,69.42],[2019.320,69.73],[2019.331,69.01],[2019.342,69.42],[2019.352,68.80],[2019.363,69.21],[2019.373,68.19],[2019.384,68.80],[2019.395,69.01],[2019.405,69.42],[2019.416,69.21],[2019.427,69.62],[2019.434,69.93],[2019.444,69.42],[2019.455,69.21],[2019.466,68.90],[2019.476,68.49],[2019.483,67.93],[2019.490,68.39],[2019.501,69.31],[2019.511,69.83],[2019.522,70.54],[2019.529,71.11],[2019.540,69.31],[2019.550,70.03],[2019.561,69.52],[2019.572,69.62],[2019.582,70.44],[2019.593,70.65],[2019.604,71.16],[2019.614,71.57],[2019.625,70.75],[2019.632,71.87],[2019.642,70.95],[2019.653,72.18],[2019.664,72.59],[2019.671,73.41],[2019.681,73.10],[2019.692,73.21],[2019.699,72.49],[2019.710,73.21],[2019.720,72.90],[2019.731,73.10],[2019.742,72.90],[2019.752,73.26],[2019.763,72.59],[2019.773,72.90],[2019.784,73.41],[2019.795,73.82],[2019.805,73.72],[2019.816,73.92],[2019.827,73.51],[2019.837,73.41],[2019.848,73.82],[2019.858,73.10],[2019.869,73.51],[2019.880,73.21],[2019.890,73.51],[2019.901,73.82],[2019.911,73.31],[2019.922,73.62],[2019.933,74.03],[2019.943,74.13],[2019.954,74.03],[2019.965,73.10],[2019.975,73.62],[2019.986,73.51],[2019.996,73.62],[2020.007,73.82],[2020.018,73.51],[2020.028,73.21],[2020.039,73.51],[2020.050,73.31],[2020.060,72.90],[2020.071,72.80],[2020.081,74.18],null,[2020.120,74.64],[2020.131,74.85],[2020.142,74.74],[2020.152,74.44],[2020.163,74.23],[2020.173,74.44],[2020.184,73.92],[2020.195,74.23],[2020.205,73.72],[2020.216,73.62],[2020.227,73.21],[2020.237,73.82],[2020.248,74.13],[2020.258,73.41],[2020.269,73.82],[2020.280,73.62],[2020.290,73.31],[2020.301,73.72],[2020.312,73.51],[2020.322,73.62],[2020.333,73.41],[2020.343,72.90],[2020.354,73.72],[2020.365,73.41],[2020.375,73.62],[2020.386,71.98],[2020.396,71.77],[2020.407,72.08],[2020.418,72.69],[2020.428,72.59],[2020.439,72.39],[2020.450,71.26],[2020.460,73.82],[2020.471,73.62],[2020.481,72.90],[2020.492,71.77],[2020.503,73.31],[2020.513,72.18],[2020.524,71.98],[2020.535,72.08],[2020.545,71.98],[2020.556,73.31],[2020.563,71.16],[2020.573,72.39],[2020.584,72.18],[2020.595,72.28],[2020.605,72.39],[2020.616,72.18],[2020.627,71.87],[2020.637,71.06],[2020.648,71.67],[2020.658,71.87],[2020.669,70.18],[2020.680,71.06],[2020.690,70.34],[2020.701,72.39],[2020.711,72.69],[2020.722,72.80],[2020.733,72.80],[2020.743,72.90],[2020.754,73.41],[2020.765,74.64],[2020.775,73.92],[2020.786,74.74],[2020.796,74.13],[2020.807,73.41],[2020.818,71.67],[2020.828,70.08],[2020.839,73.92],[2020.850,74.44],[2020.860,73.92],[2020.871,74.13],[2020.881,74.23],[2020.892,74.64],[2020.903,74.33],[2020.913,74.13],[2020.924,74.54],[2020.934,74.23],[2020.945,74.13],[2020.956,73.62],[2020.966,73.31],[2020.977,73.21],[2020.988,73.92],[2020.998,73.21],[2021.009,71.47],[2021.019,70.95],[2021.030,72.39],[2021.041,71.57],[2021.051,71.77],[2021.062,71.67],[2021.073,71.87],[2021.083,71.77],[2021.094,71.98],[2021.104,71.87],[2021.115,71.57],[2021.126,71.16],[2021.136,71.06],[2021.147,72.08],[2021.158,73.31],[2021.168,74.13],[2021.179,73.82],[2021.189,74.23],[2021.196,74.85],[2021.207,74.44],[2021.218,74.54],[2021.228,74.33],[2021.239,74.44],[2021.250,74.64],[2021.260,74.03],[2021.271,74.13],[2021.281,73.82],[2021.292,73.72],[2021.303,73.41],[2021.313,73.92],[2021.324,74.23],[2021.335,73.82],[2021.345,74.33],[2021.356,74.13],[2021.366,74.54],[2021.377,74.03],[2021.388,74.54],[2021.398,74.23],[2021.409,74.44],[2021.420,74.23],[2021.430,74.54],[2021.441,74.44],[2021.451,74.64],[2021.462,74.13],[2021.479,74.64],[2021.489,74.74],[2021.500,74.54],[2021.511,74.85],[2021.521,74.74],[2021.532,74.95],[2021.543,75.56],[2021.554,74.95],[2021.564,75.05],[2021.575,74.74],[2021.586,74.85],[2021.596,74.44],[2021.604,73.92],[2021.614,74.85],[2021.625,74.23],[2021.636,74.95],[2021.646,74.13],[2021.657,74.74],[2021.668,74.64],[2021.679,74.74],[2021.689,74.33],[2021.700,74.03],[2021.711,74.44],[2021.721,74.33],[2021.732,74.44],[2021.743,72.59],[2021.754,73.31],[2021.764,73.00],[2021.775,73.62],[2021.786,73.51],[2021.796,72.69],[2021.807,73.10],[2021.818,72.80],[2021.829,72.90],[2021.839,73.00],[2021.846,75.31],[2021.857,72.90],[2021.868,72.59],[2021.879,72.39],[2021.889,72.18],[2021.900,72.08],[2021.911,71.98],[2021.921,73.21],[2021.932,71.67],[2021.943,72.08],[2021.954,73.31],[2021.964,73.00],[2021.975,72.18],[2021.986,73.41],[2021.996,73.51],[2022.007,73.21],[2022.018,73.31],[2022.029,72.69],[2022.039,73.51],[2022.050,73.62],[2022.061,73.82],[2022.071,73.10],[2022.082,71.98],[2022.093,72.08],[2022.104,71.77],[2022.114,71.87],[2022.125,71.16],[2022.136,72.39],[2022.146,73.51],[2022.157,74.03],[2022.168,73.51],[2022.179,73.82],[2022.189,73.31],[2022.200,73.62],[2022.211,73.62],[2022.221,73.92],[2022.232,75.20],[2022.243,73.72],null,[2022.261,73.27],[2022.266,73.25],null,[2022.307,72.13],[2022.318,72.69],[2022.329,73.41],[2022.339,73.72],[2022.350,72.90],[2022.361,73.31],[2022.371,74.44],[2022.382,74.64],[2022.393,74.54],[2022.404,74.74],[2022.414,73.92],[2022.425,73.51],[2022.436,73.82],[2022.446,73.41],[2022.457,74.74],[2022.468,72.80],[2022.479,73.62],[2022.489,73.10],[2022.500,73.41],[2022.511,72.90],[2022.521,73.31],[2022.532,72.69],[2022.543,74.13],[2022.554,73.82],[2022.564,73.31],[2022.575,72.90],[2022.586,72.90],[2022.596,73.21],[2022.607,72.90],[2022.614,72.80],[2022.625,65.52],[2022.636,72.90],[2022.646,73.41],[2022.657,73.10],[2022.668,73.31],[2022.679,72.90],[2022.689,73.41],[2022.700,66.14],[2022.711,73.51],[2022.721,73.41],[2022.732,73.31],[2022.743,73.21],[2022.754,73.31],[2022.764,73.21],[2022.775,73.62],[2022.782,72.90],[2022.793,73.21],[2022.804,74.64],[2022.814,73.92],[2022.825,66.14],[2022.836,75.00],[2022.846,74.95],[2022.857,74.74],[2022.868,74.64],[2022.879,74.54],[2022.889,65.83],[2022.900,74.64],[2022.911,74.44],[2022.921,64.14],[2022.932,75.00],[2022.943,74.54],[2022.954,74.64],[2022.964,74.44],[2022.975,74.03],[2022.982,73.31],[2022.993,74.44],[2023.004,74.54],[2023.014,74.64],[2023.025,74.69],[2023.036,74.64],[2023.046,74.44],[2023.057,74.54],[2023.068,74.44],[2023.079,74.54],[2023.089,73.77],[2023.100,74.85],[2023.111,74.33],[2023.121,74.85],[2023.132,74.23],[2023.143,74.54],[2023.154,74.74],[2023.164,74.44],[2023.175,74.54],[2023.186,74.64],[2023.196,74.44],[2023.207,74.23],[2023.218,74.33],[2023.229,74.13],[2023.239,74.44],[2023.250,74.64],[2023.261,74.23],[2023.271,74.54],[2023.282,73.31],[2023.293,74.23],[2023.304,74.64],[2023.314,74.44],[2023.325,75.10],[2023.336,74.74],[2023.346,74.33],[2023.357,74.54],[2023.368,74.44],[2023.379,74.44],[2023.389,74.49],[2023.400,74.64],[2023.411,74.95],[2023.421,75.26],[2023.432,74.13],[2023.443,74.95],[2023.454,74.03],[2023.464,75.26],[2023.475,74.74],[2023.486,75.31]];

// ---------- styling ----------
const seriesColors = ['#0b5bbd', '#d93a26', '#19ff19'];
const FONT = 'Liberation Serif, Times New Roman, serif';
const INK = '#262626';
const W = 1578, H = 1046;
const M = {l: 125, r: 6, t: 5, b: 84};
const pw = W - M.l - M.r, ph = H - M.t - M.b;
const px = v => (v - M.l) / pw;         // pixel -> paper x
const py = v => (H - M.b - v) / ph;     // pixel -> paper y

const xs = a => a.map(p => p ? p[0] : null);
const ys = a => a.map(p => p ? p[1] : null);

const topSeries = [rms2022, rms2023, rms2024];
const botSeries = [obs2022, obs2023, obs2024];
const traces = [];
topSeries.forEach((s, i) => traces.push({
  x: xs(s), y: ys(s), type: 'scatter', mode: 'lines', name: seriesNames[i],
  xaxis: 'x', yaxis: 'y', line: {color: seriesColors[i], width: 2.2}, connectgaps: false,
  showlegend: false, hoverinfo: 'skip'
}));
botSeries.forEach((s, i) => traces.push({
  x: xs(s), y: ys(s), type: 'scatter', mode: 'lines', name: seriesNames[i],
  xaxis: 'x2', yaxis: 'y2', line: {color: seriesColors[i], width: 2.2}, connectgaps: false,
  showlegend: false, hoverinfo: 'skip'
}));

const xRange = [2015.94, 2023.676];
const axisCommon = {
  showline: true, linecolor: INK, linewidth: 1.3, mirror: 'ticks',
  ticks: 'inside', tickcolor: INK, tickwidth: 1.2,
  showgrid: true, gridcolor: '#e1e1e1', gridwidth: 1, zeroline: false,
  tickfont: {family: FONT, size: 31, color: INK}, fixedrange: true
};

// ---------- custom legend (long line samples like the original) ----------
const legBox = {x0: 638, x1: 1551, y0: 237, y1: 357.5};
const legRows = [262, 300.5, 339];
const shapes = [{
  type: 'rect', xref: 'paper', yref: 'paper',
  x0: px(legBox.x0), x1: px(legBox.x1), y0: py(legBox.y1), y1: py(legBox.y0),
  line: {color: INK, width: 1.3}, fillcolor: '#ffffff', layer: 'above'
}];
const annotations = [];
legRows.forEach((r, i) => {
  shapes.push({type: 'line', xref: 'paper', yref: 'paper',
    x0: px(647), x1: px(735), y0: py(r), y1: py(r),
    line: {color: seriesColors[i], width: 2.2}, layer: 'above'});
  annotations.push({xref: 'paper', yref: 'paper', x: px(741), y: py(r),
    xanchor: 'left', yanchor: 'middle', showarrow: false,
    text: seriesNames[i] + ' (avg: ' + seriesAvg[i] + ' mm/s — std: ' + seriesStd[i] + ' mm/s)',
    font: {family: FONT, size: 34.3, color: '#111'}});
});
// axis titles (placed like the original figure)
annotations.push({xref: 'paper', yref: 'paper', x: px(38), y: py(272), xanchor: 'center', yanchor: 'middle',
  textangle: -90, showarrow: false, text: axisTitles.rms, font: {family: FONT, size: 35.5, color: INK}});
annotations.push({xref: 'paper', yref: 'paper', x: px(60), y: py(763), xanchor: 'center', yanchor: 'middle',
  textangle: -90, showarrow: false, text: axisTitles.obs, font: {family: FONT, size: 35.5, color: INK}});
annotations.push({xref: 'paper', yref: 'paper', x: px(848), y: py(1026), xanchor: 'center', yanchor: 'middle',
  showarrow: false, text: axisTitles.time, font: {family: FONT, size: 34, color: INK}});

const layout = {
  width: W, height: H, margin: M,
  paper_bgcolor: '#ffffff', plot_bgcolor: '#ffffff',
  showlegend: false,
  xaxis: Object.assign({}, axisCommon, {
    domain: [0, 1], anchor: 'y', range: xRange, tickvals: yearTicks, ticktext: yearLabels,
    showticklabels: false, ticklen: 10
  }),
  yaxis: Object.assign({}, axisCommon, {
    domain: [py(547), 1], anchor: 'x', range: [0.3677, 0.790],
    tickvals: rmsTicks, ticktext: rmsLabels, ticklen: 14, ticklabelstandoff: 5
  }),
  xaxis2: Object.assign({}, axisCommon, {
    domain: [0, 1], anchor: 'y2', range: xRange, tickvals: yearTicks, ticktext: yearLabels,
    ticklen: 10, ticklabelstandoff: 1
  }),
  yaxis2: Object.assign({}, axisCommon, {
    domain: [0, py(564)], anchor: 'x2', range: [63.95, 76.15],
    tickvals: obsTicks, ticktext: obsLabels, ticklen: 14, ticklabelstandoff: 5
  }),
  shapes: shapes,
  annotations: annotations
};

Plotly.newPlot('chart', traces, layout, {staticPlot: true, displayModeBar: false});
</script>
</body></html>
